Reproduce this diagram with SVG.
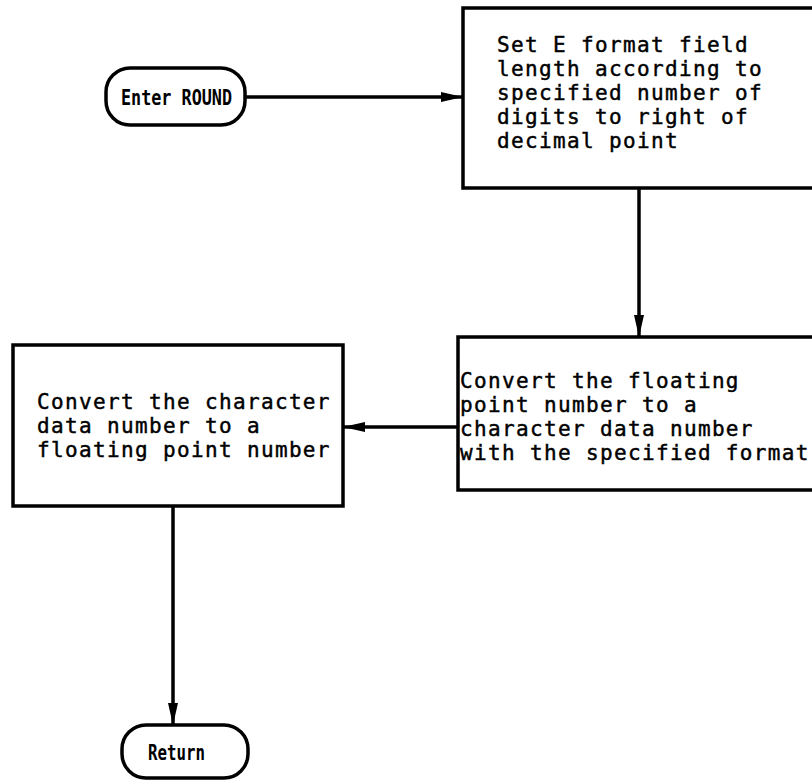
<svg xmlns="http://www.w3.org/2000/svg" width="812" height="784" viewBox="0 0 812 784">
  <style>
    .shape { fill: #ffffff; stroke: #000000; stroke-width: 3.5; }
    .edge { fill: none; stroke: #000000; stroke-width: 3.5; }
    .box-text { font-family: "DejaVu Sans Mono", "Liberation Mono", monospace; font-size: 21px; letter-spacing: 1.35px; fill: #000000; stroke: #000000; stroke-width: 0.45; }
    .term-text { font-family: "DejaVu Sans Mono", "Liberation Mono", monospace; font-weight: bold; font-size: 22px; fill: #000000; }
  </style>
  <defs>
    <marker id="arrow" viewBox="0 0 22 10" refX="21" refY="5" markerWidth="22" markerHeight="10" markerUnits="userSpaceOnUse" orient="auto">
      <path d="M0,0 L22,5 L0,10 Z" fill="#000000"/>
    </marker>
  </defs>
  <rect width="812" height="784" fill="#ffffff"/>

  <!-- connectors -->
  <g id="connectors">
    <line class="edge" x1="245" y1="97" x2="462" y2="97" marker-end="url(#arrow)"/>
    <line class="edge" x1="639" y1="188" x2="639" y2="336" marker-end="url(#arrow)"/>
    <line class="edge" x1="458" y1="427" x2="344" y2="427" marker-end="url(#arrow)"/>
    <line class="edge" x1="173" y1="506" x2="173" y2="724" marker-end="url(#arrow)"/>
  </g>

  <!-- start terminal -->
  <g id="enter-round">
    <rect class="shape" x="106" y="68" width="139" height="57" rx="24" ry="24"/>
    <text class="term-text" x="121" y="105" textLength="111" lengthAdjust="spacingAndGlyphs">Enter ROUND</text>
  </g>

  <!-- field length step -->
  <g id="set-field-length">
    <rect class="shape" x="463" y="8" width="360" height="180"/>
    <text class="box-text" x="497" y="52">Set E format field</text>
    <text class="box-text" x="497" y="76">length according to</text>
    <text class="box-text" x="497" y="100">specified number of</text>
    <text class="box-text" x="497" y="124">digits to right of</text>
    <text class="box-text" x="497" y="148">decimal point</text>
  </g>

  <!-- float to character step -->
  <g id="float-to-char">
    <rect class="shape" x="458" y="337" width="365" height="153"/>
    <text class="box-text" x="460" y="388">Convert the floating</text>
    <text class="box-text" x="460" y="412">point number to a</text>
    <text class="box-text" x="460" y="436">character data number</text>
    <text class="box-text" x="460" y="460">with the specified format</text>
  </g>

  <!-- character to float step -->
  <g id="char-to-float">
    <rect class="shape" x="13" y="345" width="330" height="161"/>
    <text class="box-text" x="37" y="409">Convert the character</text>
    <text class="box-text" x="37" y="433">data number to a</text>
    <text class="box-text" x="37" y="457">floating point number</text>
  </g>

  <!-- end terminal -->
  <g id="return">
    <rect class="shape" x="122" y="725" width="126" height="53" rx="24" ry="24"/>
    <text class="term-text" x="148" y="760" textLength="57" lengthAdjust="spacingAndGlyphs">Return</text>
  </g>
</svg>
